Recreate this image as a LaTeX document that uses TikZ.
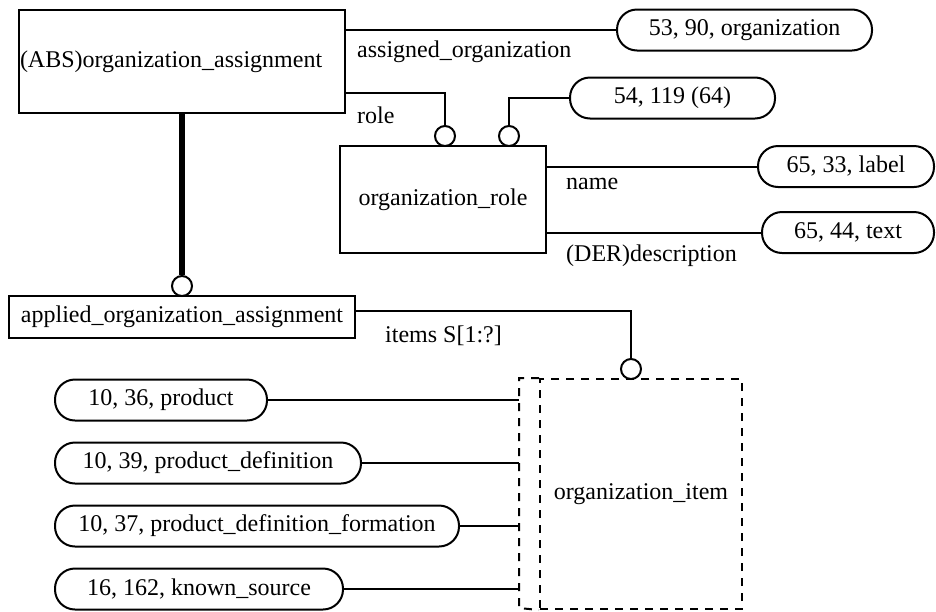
\documentclass[tikz,border=0pt]{standalone}
\usepackage{fontspec}
\setmainfont{Liberation Serif}
\usetikzlibrary{calc}
\begin{document}
\begin{tikzpicture}[x=1pt,y=-1pt,
  every node/.style={font=\fontsize{24}{28}\selectfont},
  ent/.style={draw,line width=2pt,rectangle,inner sep=0pt},
  pill/.style={draw,line width=2pt,rectangle,rounded corners=20pt,inner sep=0pt,minimum height=41pt},
  conn/.style={line width=2pt},
  ring/.style={draw,line width=2pt,circle,minimum size=20pt,inner sep=0pt,fill=white},
  lbl/.style={anchor=west,inner sep=0pt},
  sel/.style={line width=2pt,dash pattern=on 8pt off 7pt}]
\useasboundingbox (0,0) rectangle (936,611);
% entities
\node[ent,minimum width=326pt,minimum height=103pt,text width=324pt,align=left] (abs) at (182,61.5) {(ABS)organization\_assignment};
\node[ent,minimum width=206pt,minimum height=107pt] (role) at (443,199.5) {organization\_role};
\node[ent,minimum width=346pt,minimum height=42pt] (app) at (182,317) {applied\_organization\_assignment};
% select type
\node[draw,sel,minimum width=202pt,minimum height=230pt,inner sep=0pt] (oi) at (641,494) {organization\_item};
\draw[sel] (oi.north west) -- ++(-20,0) coordinate (oinw) -- ++(0,230) coordinate (oisw) -- (oi.south west);
% pills
\node[pill,minimum width=255pt] (p1) at (744.5,30) {53, 90, organization};
\node[pill,minimum width=205pt] (p2) at (672.5,98) {54, 119 (64)};
\node[pill,minimum width=176pt] (p3) at (846,166.5) {65, 33, label};
\node[pill,minimum width=172pt] (p4) at (848,232.5) {65, 44, text};
\node[pill,minimum width=212pt] (q1) at (161,400) {10, 36, product};
\node[pill,minimum width=306pt] (q2) at (208,463) {10, 39, product\_definition};
\node[pill,minimum width=404pt] (q3) at (257,526) {10, 37, product\_definition\_formation};
\node[pill,minimum width=288pt] (q4) at (199,589) {16, 162, known\_source};
% rings
\node[ring] (c1) at (445,136) {};
\node[ring] (c2) at (509,136) {};
\node[ring] (c3) at (182,286) {};
\node[ring] (c4) at (631,369) {};
% connectors
\draw[conn] (abs.east |- p1.west) -- (p1.west);
\draw[conn] (abs.east |- 0,93) -| (c1.north);
\draw[conn] (c2.north) |- (p2.west);
\draw[conn] (role.east |- p3.west) -- (p3.west);
\draw[conn] (role.east |- p4.west) -- (p4.west);
\draw[line width=6pt] (abs.south) -- (c3.north);
\draw[conn] (app.east |- 0,311) -| (c4.north);
\draw[conn] (q1.east) -- (q1.east -| oinw);
\draw[conn] (q2.east) -- (q2.east -| oinw);
\draw[conn] (q3.east) -- (q3.east -| oinw);
\draw[conn] (q4.east) -- (q4.east -| oinw);
% labels
\node[lbl] (l1) at (357,52) {assigned\_organization};
\node[lbl] (l2) at (357,115) {role};
\node[lbl] (l3) at (566,184) {name};
\node[lbl] (l4) at (566,256) {(DER)description};
\node[lbl] (l5) at (385,336) {items S[1:?]};
\end{tikzpicture}
\end{document}
